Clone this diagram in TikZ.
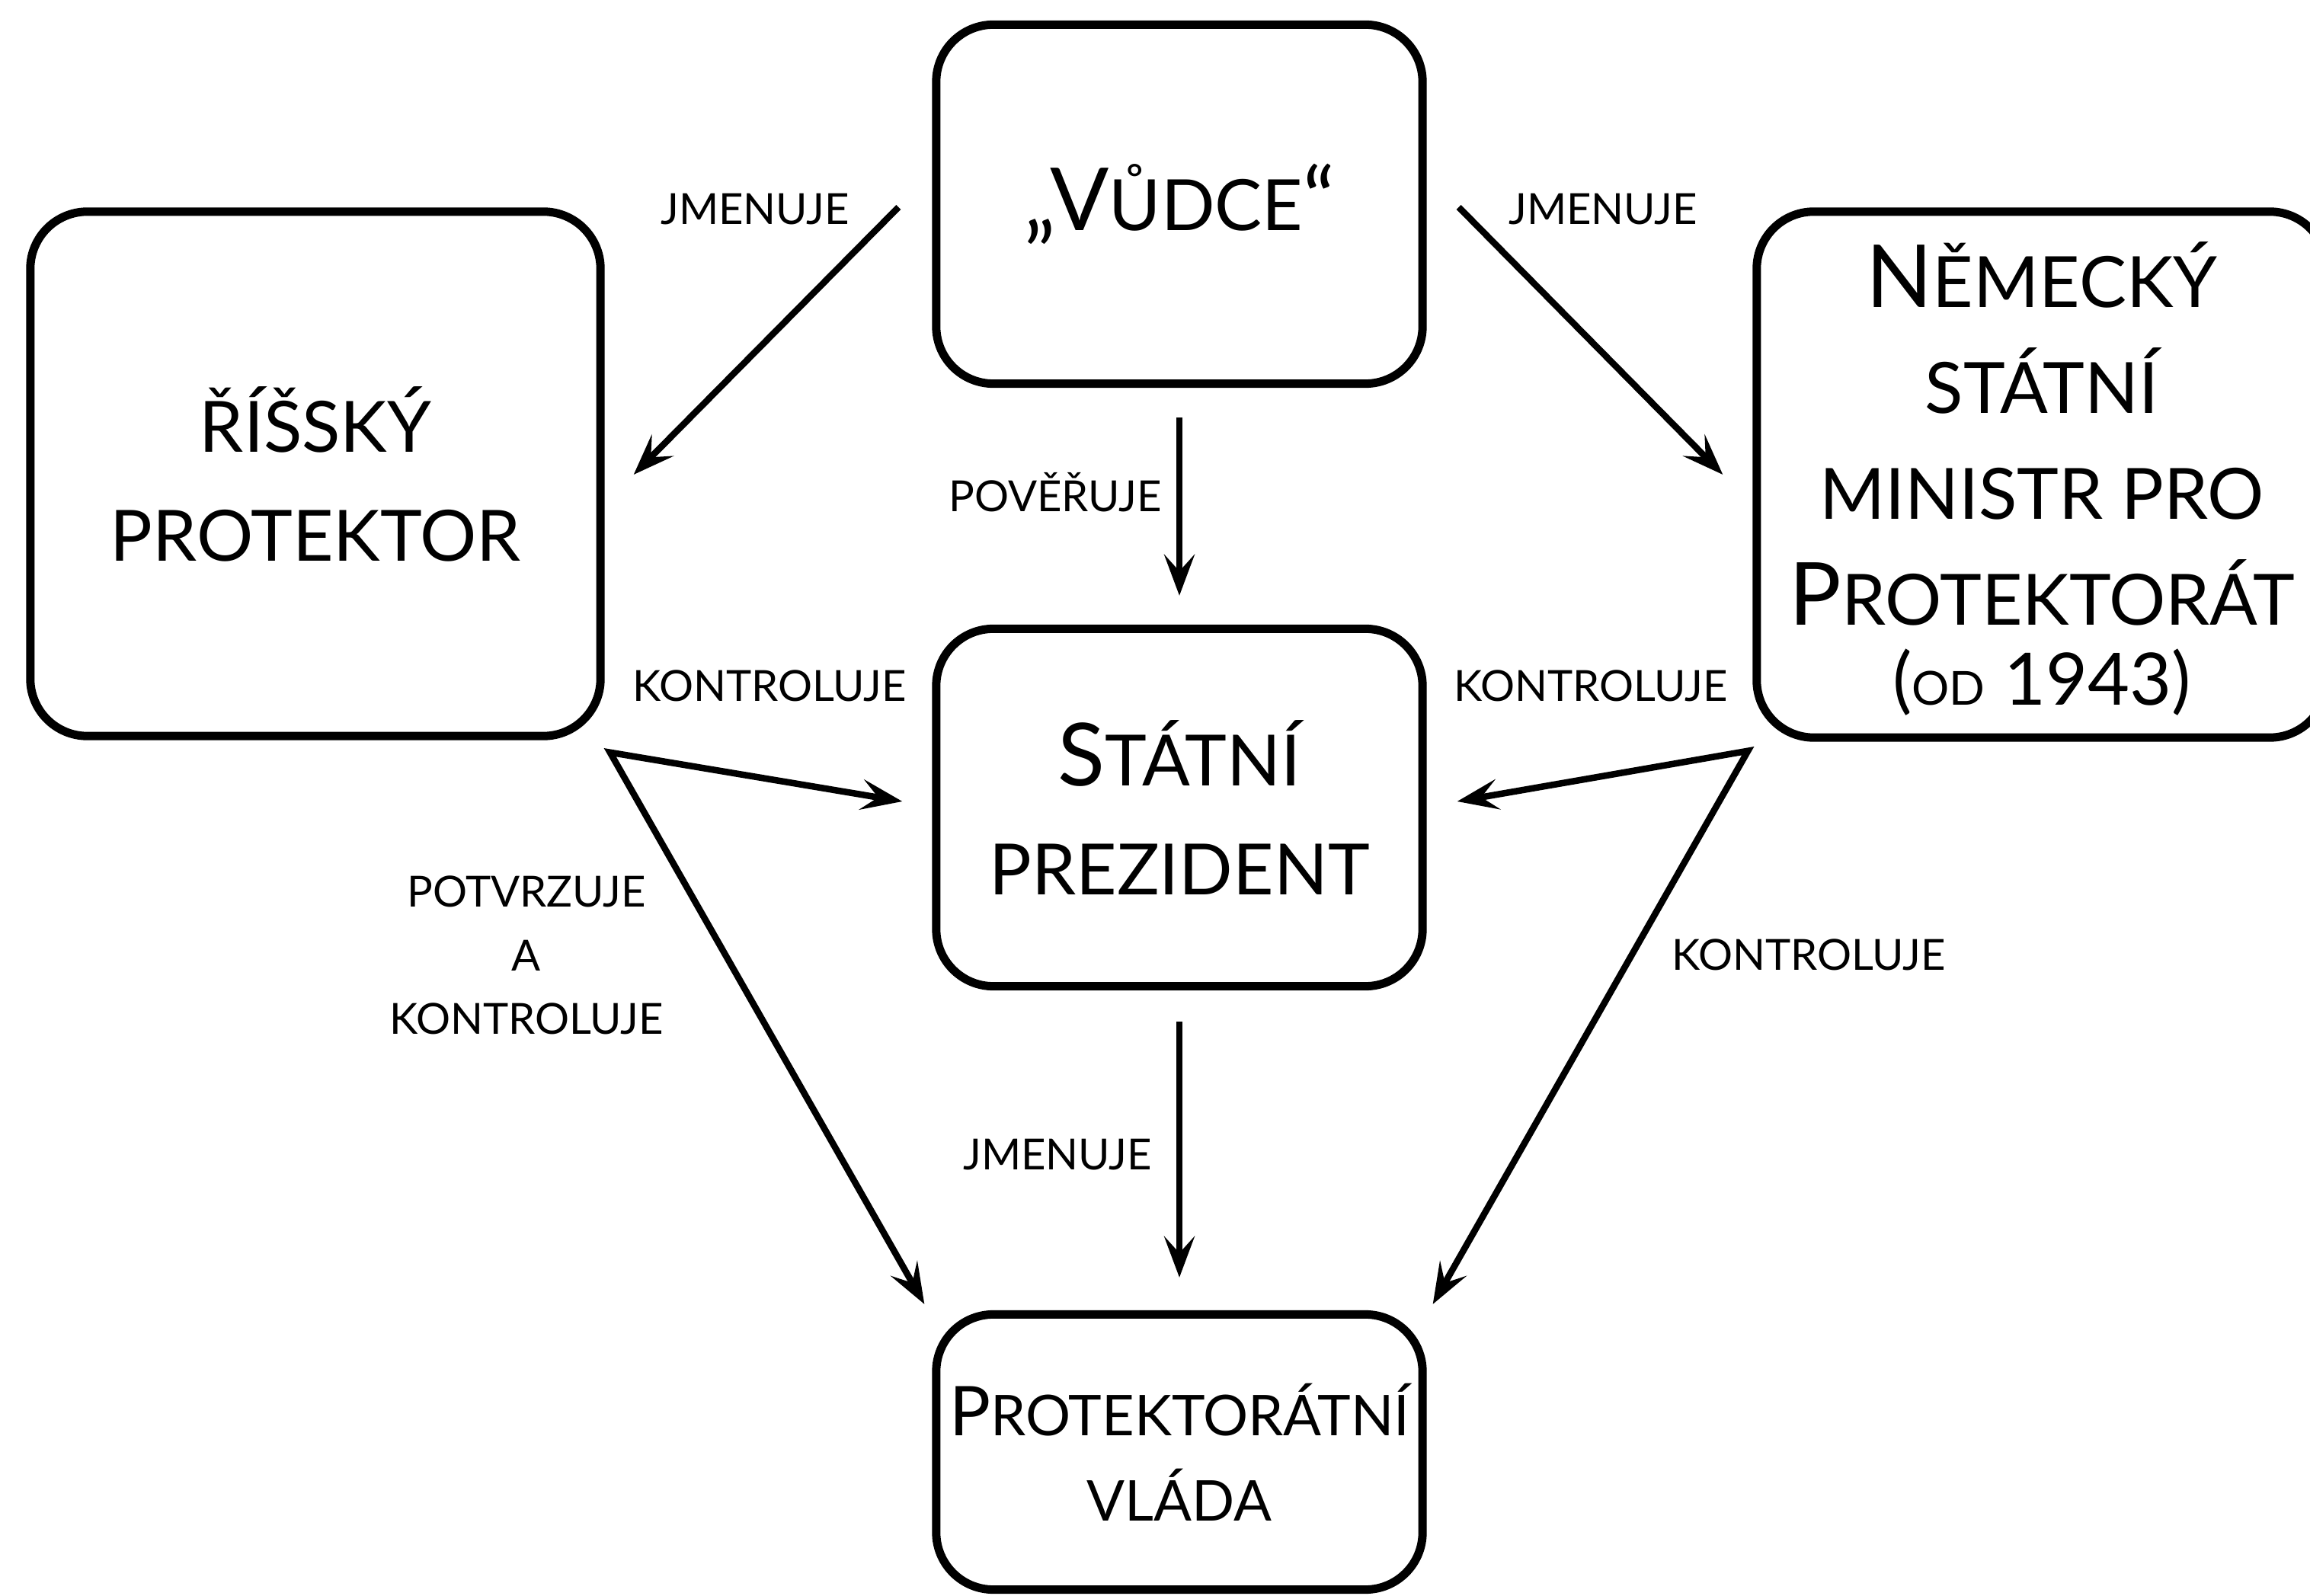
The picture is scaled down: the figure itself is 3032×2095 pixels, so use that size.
\documentclass[tikz,border=0pt]{standalone}
\usepackage{fontspec}
\setmainfont{Lato}
\usetikzlibrary{arrows.meta,calc}
\newcommand\bigc[1]{{\fontsize{32.5}{40.6}\selectfont #1}}
\newcommand\nbig[1]{{\fontsize{32.5}{39.5}\selectfont #1}}
\newcommand\vbig[1]{{\fontsize{25.6}{31.9}\selectfont #1}}
\begin{document}
\begin{tikzpicture}[x=0.01cm,y=-0.01cm,
  box/.style={draw,line width=1.1mm,rounded corners=7.5mm,align=center,inner sep=0pt,
    font=\fontsize{26.4}{40.6}\selectfont},
  lbl/.style={align=center,inner sep=0pt,font=\fontsize{16}{23.7}\selectfont},
  arr/.style={line width=0.85mm,-{Stealth[length=5.4mm,width=4mm,inset=2.2mm]}},
  arrr/.style={line width=0.85mm,{Stealth[length=5.4mm,width=4mm,inset=2.2mm]}-{Stealth[length=5.4mm,width=4mm,inset=2.2mm]}}]
\useasboundingbox (0,0) rectangle (3032,2095);
\fill[white] (0,0) rectangle (3032,2095);

% boxes
\node[box,minimum width=6.38cm,minimum height=4.71cm] (vudce) at (1548,268)
  {\bigc{„V}ŮDCE\bigc{“}};
\node[box,minimum width=7.48cm,minimum height=6.88cm] (risky) at (414,622)
  {ŘÍŠSKÝ\\PROTEKTOR};
\node[box,minimum width=7.48cm,minimum height=6.90cm,font=\fontsize{26.4}{39.5}\selectfont] (nemecky) at (2680,623)
  {\rule{0pt}{27.7pt}\nbig{N}ĚMECKÝ\\STÁTNÍ\\MINISTR PRO\\\nbig{P}ROTEKTORÁT\\[-9.5pt]%
   {\fontsize{27}{32}\selectfont (}{\fontsize{17.5}{32}\selectfont OD}{\fontsize{27}{32}\selectfont{} 1943)}};
\node[box,minimum width=6.38cm,minimum height=4.69cm] (statni) at (1548,1060)
  {\bigc{S}TÁTNÍ\\PREZIDENT};
\node[box,minimum width=6.38cm,minimum height=3.61cm,font=\fontsize{21}{31.9}\selectfont] (vlada) at (1548,1906)
  {\vbig{P}ROTEKTORÁTNÍ\\VLÁDA};

% junction points
\coordinate (rp) at ($(risky.south east)+(7,16)$);
\coordinate (np) at ($(nemecky.south west)+(-6,12)$);

% connectors
\draw[arr] ($(vudce.west)+(-44,4)$) -- ($(risky.east)+(38,1)$);
\draw[arr] ($(vudce.east)+(42,4)$) -- ($(nemecky.west)+(-39,0)$);
\draw[arr] ($(vudce.south)+(0,39)$) -- ($(statni.north)+(0,-38)$);
\draw[arr] ($(statni.south)+(0,41)$) -- ($(vlada.north)+(0,-43)$);
\draw[arrr] ($(statni.west)+(-39,-8)$) -- (rp) -- ($(vlada.north west)+(-10,-8)$);
\draw[arrr] ($(statni.east)+(40,-8)$) -- (np) -- ($(vlada.north east)+(8,-8)$);

% labels
\node[lbl] (l1) at (991,275) {JMENUJE};
\node[lbl] (l2) at (2104,275) {JMENUJE};
\node[lbl] (l3) at (1385,646) {POVĚŘUJE};
\node[lbl] (l4) at (1010,900) {KONTROLUJE};
\node[lbl] (l5) at (2088,900) {KONTROLUJE};
\node[lbl] (l6) at (691,1254) {POTVRZUJE\\A\\KONTROLUJE};
\node[lbl] (l7) at (2374,1253) {KONTROLUJE};
\node[lbl] (l8) at (1388,1516) {JMENUJE};
\end{tikzpicture}
\end{document}
